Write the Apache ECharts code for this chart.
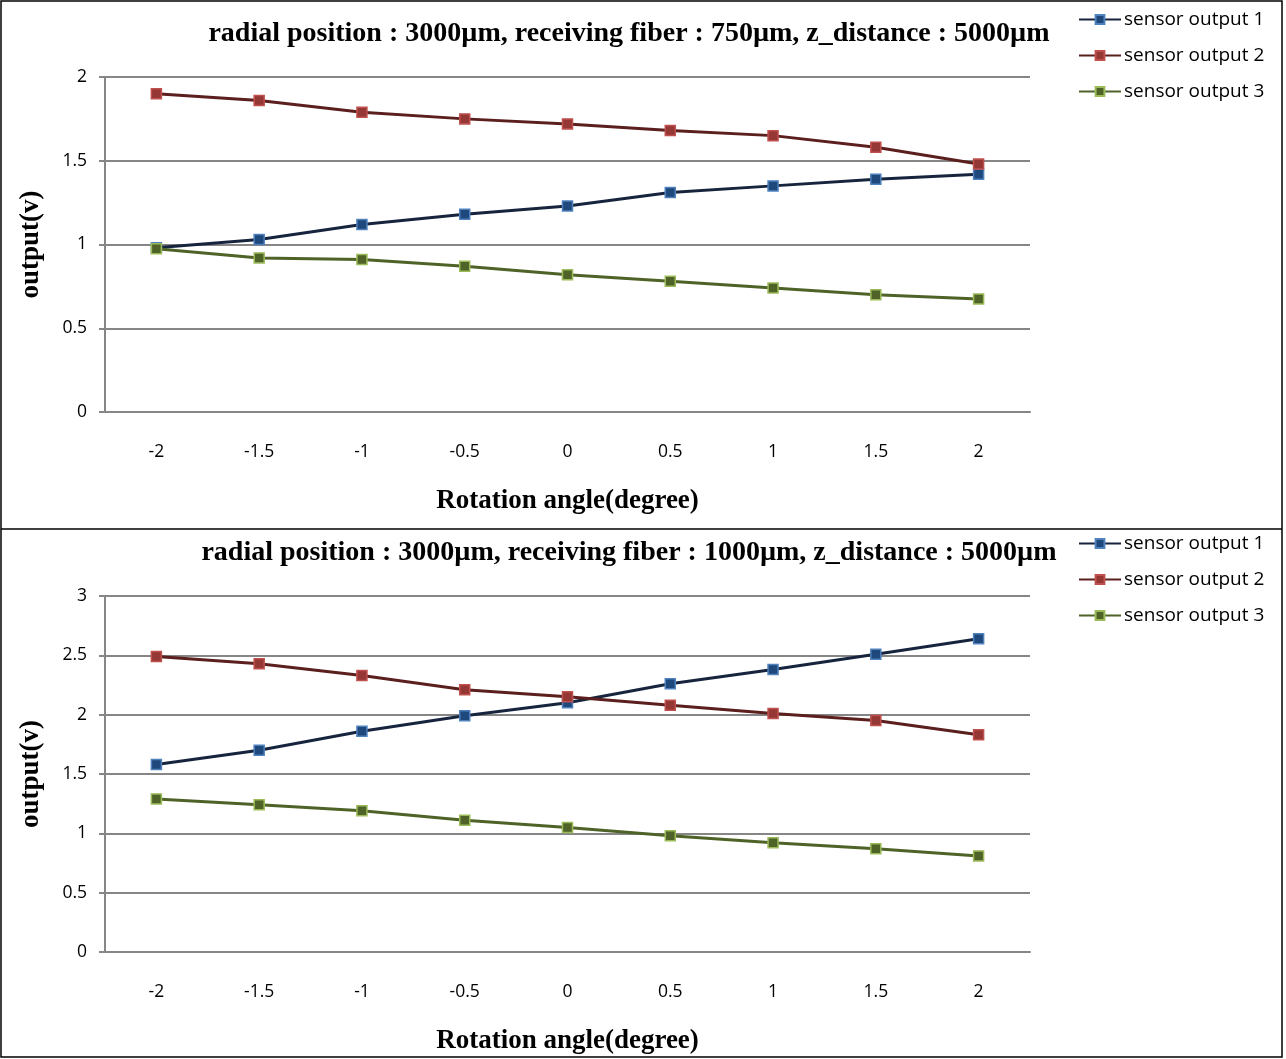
<!DOCTYPE html>
<html>
<head>
<meta charset="utf-8">
<script src="https://cdn.jsdelivr.net/npm/echarts@6/dist/echarts.min.js"></script>
<style>
html,body{margin:0;padding:0;background:#fff;}
#chart{width:1286px;height:1059px;}
</style>
</head>
<body>
<div id="chart"></div>
<script>
// ---- data ----
const categories = ['-2', '-1.5', '-1', '-0.5', '0', '0.5', '1', '1.5', '2'];
const seriesNames = ['sensor output 1', 'sensor output 2', 'sensor output 3'];

const title1 = 'radial position : 3000\u00b5m, receiving fiber : 750\u00b5m, z_distance : 5000\u00b5m';
const title2 = 'radial position : 3000\u00b5m, receiving fiber : 1000\u00b5m, z_distance : 5000\u00b5m';

const top_output1 = [0.98, 1.03, 1.12, 1.18, 1.23, 1.31, 1.35, 1.39, 1.42];
const top_output2 = [1.90, 1.86, 1.79, 1.75, 1.72, 1.68, 1.65, 1.58, 1.48];
const top_output3 = [0.975, 0.92, 0.91, 0.87, 0.82, 0.78, 0.74, 0.70, 0.675];

const bot_output1 = [1.58, 1.70, 1.86, 1.99, 2.10, 2.26, 2.38, 2.51, 2.64];
const bot_output2 = [2.49, 2.43, 2.33, 2.21, 2.15, 2.08, 2.01, 1.95, 1.83];
const bot_output3 = [1.29, 1.24, 1.19, 1.11, 1.05, 0.98, 0.92, 0.87, 0.81];

const topYTicks = {min: 0, max: 2, interval: 0.5};
const botYTicks = {min: 0, max: 3, interval: 0.5};

// ---- styles ----
const styles = [
  {line: '#16253d', fill: '#1f497d', border: '#4f81bd'},
  {line: '#5b1f1e', fill: '#953735', border: '#c0504d'},
  {line: '#4f6228', fill: '#4f6228', border: '#9bbb59'}
];
const serifBold = {fontFamily: 'Liberation Serif', fontWeight: 'bold', color: '#000'};
const sans = 'Open Sans';

function mkSeries(idx, data, name, st) {
  return {
    type: 'line', name: name, xAxisIndex: idx, yAxisIndex: idx, data: data,
    symbol: 'rect', symbolSize: 10,
    lineStyle: {color: st.line, width: 3},
    itemStyle: {color: st.fill, borderColor: st.border, borderWidth: 1.5},
    emphasis: {disabled: true}, animation: false
  };
}

function mkX(idx) {
  return {
    type: 'category', gridIndex: idx, data: categories, boundaryGap: true,
    axisLine: {lineStyle: {color: '#868686', width: 2}},
    axisTick: {show: false},
    axisLabel: {color: '#000', fontFamily: sans, fontSize: 17.5, margin: 31},
    name: 'Rotation angle(degree)', nameLocation: 'middle', nameGap: 76,
    nameTextStyle: Object.assign({fontSize: 27}, serifBold)
  };
}
function mkY(idx, t) {
  return {
    type: 'value', gridIndex: idx, min: t.min, max: t.max, interval: t.interval,
    axisLine: {show: true, lineStyle: {color: '#868686', width: 2}},
    axisTick: {show: true, length: 6, lineStyle: {color: '#868686', width: 2}},
    splitLine: {lineStyle: {color: '#868686', width: 2}},
    axisLabel: {color: '#000', fontFamily: sans, fontSize: 17.5, margin: 18},
    name: 'output(v)', nameLocation: 'middle', nameGap: 60, nameRotate: 90,
    nameTextStyle: Object.assign({fontSize: 27}, serifBold)
  };
}

const legendBase = {
  data: seriesNames, orient: 'vertical', left: 1073, itemWidth: 42, itemHeight: 11, itemGap: 17,
  textStyle: {fontFamily: sans, fontSize: 19, color: '#000', padding: [0, 0, 0, -2]}, selectedMode: false
};

const chart = echarts.init(document.getElementById('chart'), null, {renderer: 'canvas'});
chart.setOption({
  backgroundColor: '#fff',
  animation: false,
  title: [
    {text: title1, left: 624, top: 15, textAlign: 'center', textStyle: Object.assign({fontSize: 28}, serifBold)},
    {text: title2, left: 624, top: 534, textAlign: 'center', textStyle: Object.assign({fontSize: 28}, serifBold)}
  ],
  legend: [
    Object.assign({top: 5}, legendBase),
    Object.assign({top: 529}, legendBase)
  ],
  grid: [
    {left: 105, top: 77, width: 925, height: 335},
    {left: 105, top: 596, width: 925, height: 356}
  ],
  xAxis: [mkX(0), mkX(1)],
  yAxis: [mkY(0, topYTicks), mkY(1, botYTicks)],
  series: [
    mkSeries(0, top_output1, seriesNames[0], styles[0]),
    mkSeries(0, top_output2, seriesNames[1], styles[1]),
    mkSeries(0, top_output3, seriesNames[2], styles[2]),
    mkSeries(1, bot_output1, seriesNames[0], styles[0]),
    mkSeries(1, bot_output2, seriesNames[1], styles[1]),
    mkSeries(1, bot_output3, seriesNames[2], styles[2])
  ],
  graphic: [
    {type: 'rect', shape: {x: 1, y: 1, width: 1281, height: 1056}, style: {fill: null, stroke: '#000', lineWidth: 1.5}, silent: true},
    {type: 'line', shape: {x1: 1, y1: 529, x2: 1282, y2: 529}, style: {stroke: '#000', lineWidth: 1.5}, silent: true}
  ]
});
</script>
</body>
</html>
